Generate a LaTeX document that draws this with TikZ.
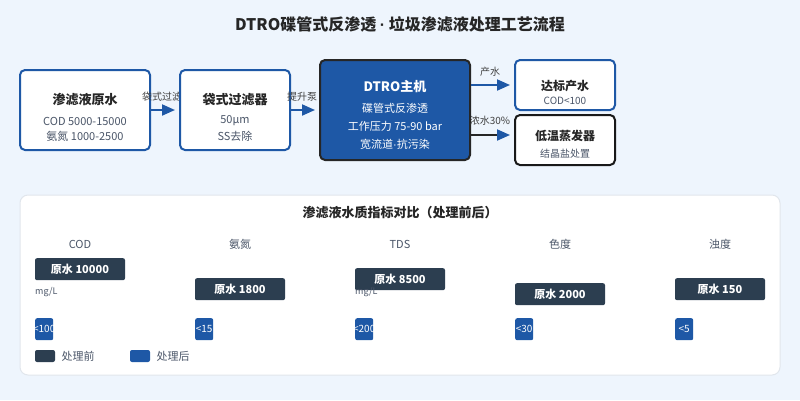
\documentclass[tikz,border=0pt]{standalone}
\usepackage{fontspec}
\setmainfont{Noto Sans CJK SC}
\newfontfamily\latinfont{Liberation Sans}
\usepackage{tikz}
\usetikzlibrary{positioning, arrows.meta, calc}
\definecolor{bgblue}{RGB}{238,245,253}
\definecolor{mainblue}{RGB}{30,88,166}
\definecolor{darkbar}{RGB}{44,62,80}
\definecolor{txtgray}{RGB}{74,85,104}
\definecolor{edgegray}{RGB}{225,230,236}
\newcommand{\fs}[1]{\fontsize{#1}{#1}\selectfont}
\newcommand{\mdot}{{\latinfont ·}}

\begin{document}
\begin{tikzpicture}[
			x=1pt, y=-1pt,
			>={Triangle[length=13pt,width=11pt]},
			flowbox/.style={
				draw=mainblue, fill=white, line width=2pt, rounded corners=5pt,
				minimum width=#1, minimum height=80pt, inner sep=0pt
			},
			flowbox/.default=110pt,
			boxtitle/.style={font=\fs{13}\bfseries, text=black!85},
			boxline/.style={font=\fs{11}, text=txtgray},
			flowarrow/.style={->, line width=2pt, mainblue},
			arrowlabel/.style={font=\fs{10}, text=black!75},
			rawbar/.style={fill=darkbar, rounded corners=2pt, minimum width=90pt,
				minimum height=22pt, inner sep=0pt, text=white, font=\fs{11}\bfseries},
			donebar/.style={fill=mainblue, rounded corners=2pt, minimum width=18pt,
				minimum height=22pt, inner sep=0pt},
			colhead/.style={font=\fs{11}, text=txtgray}
			]
			
			% background and title
			\fill[bgblue] (0,0) rectangle (800,400);
			\useasboundingbox (0,0) rectangle (800,400);
			\node[font=\fs{16}\bfseries, text=black!85] (title) at (400,24) {DTRO碟管式反渗透 \mdot{} 垃圾渗滤液处理工艺流程};
			
			% 1. PRETREATMENT (Left), labels lie between the boxes
			\node[flowbox=130pt] (raw) at (85,110) {};
			\node[boxtitle] at (85,100) {渗滤液原水};
			\node[boxline] at (85,121) {COD 5000-15000};
			\node[boxline] at (85,136) {氨氮 1000-2500};
			\node[arrowlabel] (lbag) at (162,97) {袋式过滤};
			
			\node[flowbox] (filter) at (235,110) {};
			\node[boxtitle] at (235,100) {袋式过滤器};
			\node[boxline] at (235,121) {50μm};
			\node[boxline] at (235,136) {SS去除};
			\node[arrowlabel] (lpump) at (302,97) {提升泵};
			
			% 2. DTRO MAIN UNIT (Center)
			\node[flowbox=150pt, minimum height=100pt, fill=mainblue, draw=black!85] (dtro) at (395,110) {};
			\node[boxtitle, text=white] at (395,87) {DTRO主机};
			\node[boxline, text=white] at (395,108) {碟管式反渗透};
			\node[boxline, text=white] at (395,126) {工作压力 75-90 bar};
			\node[boxline, text=white] at (395,144) {宽流道\mdot{}抗污染};
			\node[arrowlabel] (lprod) at (490,72) {产水};
			\node[arrowlabel] (lconc) at (490,121) {浓水30\%};
			
			% 3. OUTPUTS (Right)
			\node[flowbox=100pt, minimum height=50pt] (prod) at (565,85) {};
			\node[boxtitle, font=\fs{12}\bfseries] at (565,86) {达标产水};
			\node[boxline, font=\fs{10}] at (565,101) {COD<100};
			
			\node[flowbox=100pt, minimum height=50pt, draw=black!90] (evap) at (565,140) {};
			\node[boxtitle, font=\fs{12}\bfseries] at (565,136) {低温蒸发器};
			\node[boxline, font=\fs{10}] at (565,154) {结晶盐处置};
			
			\draw[flowarrow, shorten >=4pt] (raw.east) -- (filter.west);
			\draw[flowarrow, shorten >=4pt] (filter.east) -- (dtro.west);
			\draw[flowarrow, shorten >=4pt] (dtro.east |- prod.west) -- (prod.west);
			\draw[flowarrow, black!85, -{Triangle[length=13pt,width=11pt,color=mainblue]}, shorten >=4pt]
			([yshift=5pt]dtro.east |- evap.west) -- ([yshift=5pt]evap.west);
			
			% 4. WATER QUALITY PANEL (Bottom)
			\node[draw=edgegray, fill=white, rounded corners=8pt, minimum width=760pt,
			minimum height=180pt, line width=1pt] (panel) at (400,285) {};
			\node[font=\fs{13}\bfseries, text=black!85] (ptitle) at (400,213) {渗滤液水质指标对比（处理前后）};
			
			\foreach \cx/\name/\val/\ytop/\after in {80/COD/10000/258/<100, 240/氨氮/1800/278/<15,
				400/TDS/8500/268/<200, 560/色度/2000/283/<30, 720/浊度/150/278/<5}{
				\node[colhead] (h\cx) at (\cx,244) {\name};
				\node[rawbar, anchor=north] (raw\cx) at (\cx,\ytop) {原水 \val};
				\node[donebar, anchor=north west] (done\cx) at (\cx-45,318) {};
				\begin{scope}
					\clip[rounded corners=2pt] (done\cx.north west) rectangle (done\cx.south east);
					\node[font=\fs{10}, text=white] at (done\cx) {\after};
				\end{scope}
			}
			\node[font=\fs{9}, text=txtgray, anchor=west, inner sep=1pt] (unit1) at (34,292) {mg/L};
			\node[font=\fs{9}, text=txtgray, anchor=west, inner sep=1pt] (unit2) at (354,292) {mg/L};
			
			% legend
			\node[fill=darkbar, rounded corners=2pt, minimum width=20pt, minimum height=12pt, inner sep=0pt] (kbefore) at (45,356) {};
			\node[font=\fs{11}, text=txtgray, right=3pt of kbefore] {处理前};
			\node[fill=mainblue, rounded corners=2pt, minimum width=20pt, minimum height=12pt, inner sep=0pt] (kafter) at (140,356) {};
			\node[font=\fs{11}, text=txtgray, right=3pt of kafter] {处理后};
		\end{tikzpicture}
\end{document}
